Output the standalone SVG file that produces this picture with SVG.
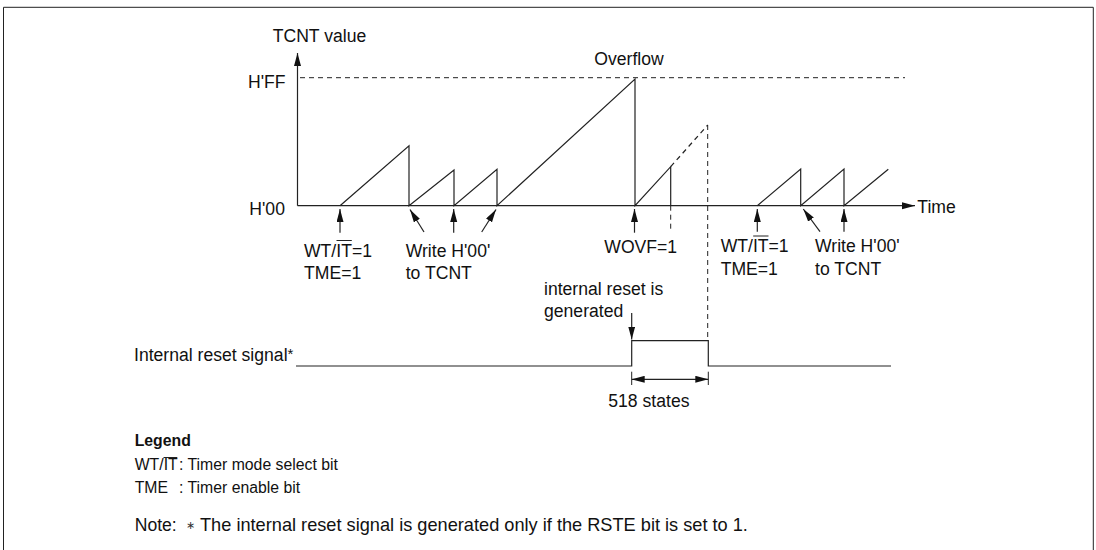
<svg xmlns="http://www.w3.org/2000/svg" width="1096" height="550" viewBox="0 0 1096 550">
<style>
.t{font-family:"Liberation Sans",Arial,Helvetica,sans-serif;font-size:17.6px;fill:#111}
.lg{font-size:15.8px}
.b{font-weight:bold}
.ln{stroke:#222;stroke-width:1.2;fill:none}
.thin{stroke:#222;stroke-width:1;fill:none}
.dash{stroke-dasharray:5 4}
</style>
<defs>
<marker id="ah" markerUnits="userSpaceOnUse" markerWidth="14" markerHeight="8" refX="13" refY="3.5" orient="auto">
<path d="M0,0 L13,3.5 L0,7 z" fill="#111"/>
</marker>
<marker id="ahs" markerUnits="userSpaceOnUse" markerWidth="14" markerHeight="8" refX="0" refY="3.5" orient="auto">
<path d="M13,0 L0,3.5 L13,7 z" fill="#111"/>
</marker>
</defs>
<rect width="1096" height="550" fill="#fff"/>
<path class="thin" d="M3.5,550 V7.3 H1093.3 V550" stroke-width="1"/>

<g id="axes">
<line class="ln" x1="297.5" y1="205.7" x2="297.5" y2="53" marker-end="url(#ah)"/>
<line class="ln" x1="297.5" y1="205.7" x2="915" y2="205.7" marker-end="url(#ah)"/>
<line class="thin dash" x1="300" y1="77.7" x2="905" y2="77.7"/>
<text class="t" x="272.7" y="41.7">TCNT value</text>
<text class="t" x="248" y="88.3">H'FF</text>
<text class="t" x="249.3" y="215">H'00</text>
<text class="t" x="917.3" y="213">Time</text>
<text class="t" x="594.3" y="65">Overflow</text>
</g>

<g id="tcnt-waveform">
<polyline class="ln" points="340,205.7 409,145.7 409,205.7 454,170 454,205.7 497,169.3 497,205.7 635,79 635,205.7 670.7,166.7 670.7,205.7"/>
<line class="ln dash" x1="670.7" y1="166.7" x2="707.7" y2="125"/>
<line class="thin dash" x1="670.7" y1="205.7" x2="670.7" y2="232"/>
<line class="thin dash" x1="707.7" y1="125" x2="707.7" y2="340.7"/>
<polyline class="ln" points="757.3,205.7 800.7,169 800.7,205.7 844,169 844,205.7 888.3,169.3"/>
</g>

<g id="connectors">
<line class="ln" x1="340" y1="232.7" x2="340" y2="209" marker-end="url(#ah)"/>
<line class="ln" x1="424" y1="232" x2="410" y2="209.5" marker-end="url(#ah)"/>
<line class="ln" x1="453.7" y1="232.7" x2="453.7" y2="209" marker-end="url(#ah)"/>
<line class="ln" x1="481.7" y1="232" x2="496" y2="209.5" marker-end="url(#ah)"/>
<line class="ln" x1="634.5" y1="232.7" x2="634.5" y2="209" marker-end="url(#ah)"/>
<line class="ln" x1="757.3" y1="231.7" x2="757.3" y2="209" marker-end="url(#ah)"/>
<line class="ln" x1="820" y1="231.7" x2="803.3" y2="209" marker-end="url(#ah)"/>
<line class="ln" x1="844" y1="231.7" x2="844" y2="209" marker-end="url(#ah)"/>
<line class="ln" x1="631.7" y1="313" x2="631.7" y2="339.5" marker-end="url(#ah)"/>
<line class="ln" x1="631.7" y1="379.3" x2="708.3" y2="379.3" marker-start="url(#ahs)" marker-end="url(#ah)"/>
<line class="thin" x1="631.7" y1="371.7" x2="631.7" y2="385"/>
<line class="thin" x1="708.3" y1="371.7" x2="708.3" y2="385"/>
</g>

<g id="label-start-left">
<text class="t" x="304" y="256.7">WT/IT=1</text>
<line class="thin" x1="336.5" y1="240.5" x2="351.8" y2="240.5"/>
<text class="t" x="304" y="279.3">TME=1</text>
</g>
<g id="label-write-left">
<text class="t" x="405.7" y="256.7">Write H'00'</text>
<text class="t" x="405.7" y="279.3">to TCNT</text>
</g>
<g id="label-wovf">
<text class="t" x="604.3" y="253.3">WOVF=1</text>
</g>
<g id="label-start-right">
<text class="t" x="720.7" y="252.3">WT/IT=1</text>
<line class="thin" x1="753.2" y1="236" x2="768.5" y2="236"/>
<text class="t" x="720.7" y="275">TME=1</text>
</g>
<g id="label-write-right">
<text class="t" x="815" y="252.3">Write H'00'</text>
<text class="t" x="815" y="275">to TCNT</text>
</g>
<g id="label-reset">
<text class="t" x="544" y="295">internal reset is</text>
<text class="t" x="544" y="316.7">generated</text>
</g>

<g id="reset-signal">
<text class="t" x="134" y="361">Internal reset signal<tspan style="font-size:15px" dy="-2">*</tspan></text>
<polyline class="ln" points="296,366 631.7,366 631.7,340.7 708.3,340.7 708.3,366 891,366"/>
<text class="t" x="608.3" y="406.7">518 states</text>
</g>

<g id="legend">
<text class="t lg b" x="134.7" y="445.7">Legend</text>
<text class="t lg" x="134.7" y="470">WT/IT</text>
<line class="thin" x1="163.5" y1="457.5" x2="177.3" y2="457.5"/>
<text class="t lg" x="179" y="470">: Timer mode select bit</text>
<text class="t lg" x="134.7" y="493.3">TME</text>
<text class="t lg" x="179" y="493.3">: Timer enable bit</text>
<text class="t" x="134.7" y="530.7">Note:</text>
<text class="t" x="185.5" y="528.5" style="font-size:11px;fill:#333">∗</text>
<text class="t" x="200" y="530.7" style="font-size:18.2px">The internal reset signal is generated only if the RSTE bit is set to 1.</text>
</g>
</svg>
